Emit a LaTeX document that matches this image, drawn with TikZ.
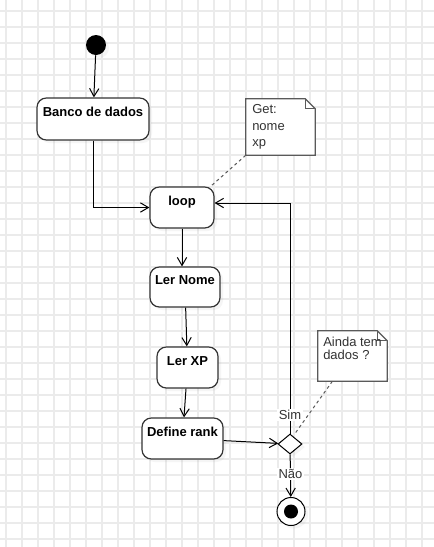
\documentclass[tikz,border=0pt]{standalone}
\usepackage{fontspec}
\setmainfont{Liberation Sans}
\usetikzlibrary{arrows.meta,shapes.geometric,shadows}

\definecolor{gridgray}{HTML}{EBEBEB}
\definecolor{boxline}{HTML}{333333}
\definecolor{notegray}{HTML}{5A5A5A}

\tikzset{
  every node/.style={font=\fontsize{9.75}{12}\selectfont},
  soft/.style={drop shadow={shadow xshift=2.25pt, shadow yshift=-2.25pt, opacity=0.08}},
  act/.style={draw=boxline, line width=0.9pt, rounded corners=7pt, fill=white, soft,
    font=\fontsize{9.75}{12}\selectfont\bfseries, text height=7pt, text depth=10.5pt},
  note/.style={inner sep=0pt, minimum width=51.75pt},
  notetext/.style={inner sep=0pt, anchor=north west, align=left, text=boxline},
  flow/.style={-{Straight Barb[length=6pt, width=7pt]}, line width=0.75pt},
  hint/.style={draw=notegray, dash pattern=on 2.25pt off 2.25pt, line width=0.75pt},
  lbl/.style={fill=white, inner sep=1pt, text=boxline},
}

\begin{document}
\begin{tikzpicture}[x=0.75pt, y=-0.75pt]
  \useasboundingbox (0,0) rectangle (434,547);
  \fill [white] (0,0) rectangle (434,547);
  \foreach \gx in {6,22,...,430} \draw [gridgray, line width=0.9pt] (\gx,0) -- (\gx,547);
  \foreach \gy in {11,27,...,539} \draw [gridgray, line width=0.9pt] (0,\gy) -- (434,\gy);

  \node [circle, fill, minimum size=15pt, inner sep=0pt, soft] (start) at (96,45) {};
  \node [act, minimum width=84pt, minimum height=31.5pt] (banco) at (93,119) {Banco de dados};
  \node [act, minimum width=48pt, minimum height=30.75pt] (loop) at (182,207.5) {loop};
  \node [act, minimum width=52.5pt, minimum height=30pt] (lernome) at (185,287) {Ler Nome};
  \node [act, minimum width=45.75pt, minimum height=30.75pt] (lerxp) at (187.5,367.5) {Ler XP};
  \node [act, minimum width=60.75pt, minimum height=30.75pt] (define) at (182.5,438.5) {Define rank};
  \node [diamond, draw, fill=white, line width=0.75pt, minimum width=18pt, minimum height=15pt, inner sep=0pt, soft] (dec) at (290,444) {};
  \node [circle, draw, fill=white, line width=0.75pt, minimum size=21pt, inner sep=0pt, soft] (fin) at (291,511.5) {};
  \node [circle, fill, minimum size=10.5pt, inner sep=0pt] (fincore) at (fin) {};

  % notes
  \node [note, minimum height=42pt] (noteget) at (280.5,127) {};
  \node [note, minimum height=37.5pt] (notedados) at (352.5,356) {};
  \foreach \n in {noteget,notedados} {
    \draw [notegray, line width=0.9pt, fill=white] (\n.north west) -- ([xshift=-7.5pt]\n.north east)
      -- ([yshift=-7.5pt]\n.north east) -- (\n.south east) -- (\n.south west) -- cycle;
    \draw [notegray, line width=0.9pt] ([xshift=-7.5pt]\n.north east) |- ([yshift=-7.5pt]\n.north east);
  }
  \node [notetext, font=\fontsize{9.75}{12.2}\selectfont] (gettext) at (252,104.5) {Get:\\nome\\xp};
  \node [notetext, font=\fontsize{9.75}{9.3}\selectfont] (dadostext) at (323,337) {Ainda tem\\dados ?};

  \coordinate (back) at (290,203);

  \draw [flow] (start) -- (banco);
  \draw [flow] (banco) |- (loop);
  \draw [flow] (loop.south) -- (loop.south |- lernome.north);
  \draw [flow] (lernome) -- (lerxp);
  \draw [flow] (lerxp) -- (define);
  \draw [flow] (define) -- (dec);
  \draw [flow] (dec) -- node [lbl, pos=0.08] {Sim} (back) -- (back -| loop.east);
  \draw [flow] (dec) -- node [lbl, pos=0.45] {Não} (fin);
  \draw [hint] (noteget.south west) -- ([xshift=-3pt]loop.north east);
  \draw [hint] ([xshift=11pt]notedados.south west) -- ([xshift=3.75pt]dec.north);
\end{tikzpicture}
\end{document}
